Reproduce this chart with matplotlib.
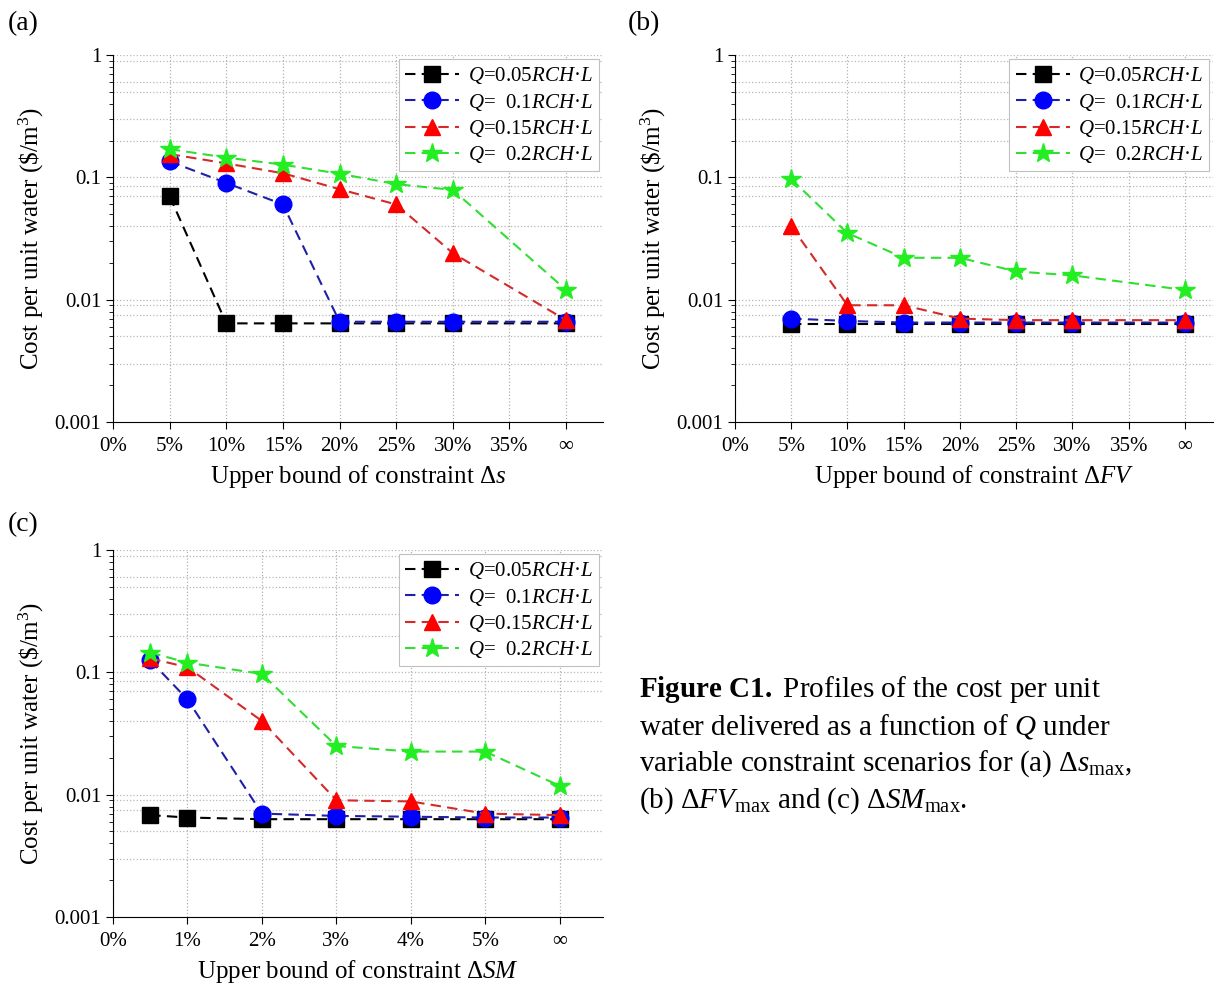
import numpy as np
import matplotlib
matplotlib.use("Agg")
import matplotlib.pyplot as plt
from matplotlib.ticker import LogLocator, FixedLocator, NullFormatter

plt.rcParams['font.family'] = ['Liberation Serif', 'DejaVu Serif']
plt.rcParams['mathtext.fontset'] = 'custom'
plt.rcParams['mathtext.rm'] = 'Liberation Serif'
plt.rcParams['mathtext.it'] = 'Liberation Serif:italic'
plt.rcParams['mathtext.bf'] = 'Liberation Serif:bold'

# series labels
labels = [r'$Q$=0.05$RCH$·$L$', r'$Q$=  0.1$RCH$·$L$',
          r'$Q$=0.15$RCH$·$L$', r'$Q$=  0.2$RCH$·$L$']

# panel (a): constraint on delta s
ticks_a = ['0%', '5%', '10%', '15%', '20%', '25%', '30%', '35%', '∞']
x_a = [1, 2, 3, 4, 5, 6, 8]
a_q005 = [0.070, 0.0064, 0.0064, 0.0064, 0.0064, 0.0064, 0.0064]
a_q010 = [0.135, 0.090, 0.060, 0.0066, 0.0066, 0.0066, 0.0066]
a_q015 = [0.155, 0.130, 0.108, 0.080, 0.060, 0.024, 0.0068]
a_q020 = [0.170, 0.145, 0.127, 0.107, 0.088, 0.079, 0.012]

# panel (b): constraint on delta FV
ticks_b = ticks_a
x_b = [1, 2, 3, 4, 5, 6, 8]
b_q005 = [0.0063, 0.0063, 0.0063, 0.0063, 0.0063, 0.0063, 0.0063]
b_q010 = [0.0070, 0.0067, 0.0065, 0.0065, 0.0065, 0.0065, 0.0065]
b_q015 = [0.040, 0.0090, 0.0090, 0.0070, 0.0068, 0.0068, 0.0068]
b_q020 = [0.097, 0.035, 0.022, 0.022, 0.017, 0.0158, 0.012]

# panel (c): constraint on delta SM
ticks_c = ['0%', '1%', '2%', '3%', '4%', '5%', '∞']
x_c = [0.5, 1, 2, 3, 4, 5, 6]
c_q005 = [0.0068, 0.0065, 0.0063, 0.0063, 0.0063, 0.0063, 0.0063]
c_q010 = [0.125, 0.060, 0.0070, 0.0067, 0.0066, 0.0065, 0.0065]
c_q015 = [0.130, 0.110, 0.040, 0.0090, 0.0088, 0.0070, 0.0068]
c_q020 = [0.145, 0.120, 0.097, 0.025, 0.0225, 0.0225, 0.0118]

# horizontal dotted grid levels visible in the original
grid_levels = [1, 0.9, 0.6, 0.5, 0.3, 0.2, 0.1, 0.085, 0.07, 0.04,
               0.01, 0.009, 0.0075, 0.005, 0.003]

markers = ['s', 'o', '^', '*']
mcolors = ['black', '#0000FF', '#FF0000', '#22EE22']
lcolors = ['black', '#1f1fa8', '#d42a2a', '#33dd33']
msizes = [11, 12, 12, 15]

fig = plt.figure(figsize=(12.18, 9.88), dpi=100)


def draw(ax, x, series, ticks, xmax, xlabel):
    for i, y in enumerate(series):
        ax.plot(x, y, linestyle=(0, (5, 3)), lw=1.5, color=lcolors[i],
                marker=markers[i], ms=msizes[i], mfc=mcolors[i], mec=mcolors[i],
                label=labels[i], zorder=3 + i)
    ax.set_yscale('log')
    ax.set_ylim(0.001, 1)
    ax.set_xlim(0, xmax)
    ax.xaxis.set_major_locator(FixedLocator(range(len(ticks))))
    ax.set_xticklabels(ticks)
    ax.yaxis.set_major_locator(FixedLocator([0.001, 0.01, 0.1, 1]))
    ax.set_yticklabels(['0.001', '0.01', '0.1', '1'])
    ax.yaxis.set_minor_locator(LogLocator(base=10, subs=np.arange(2, 10)))
    ax.yaxis.set_minor_formatter(NullFormatter())
    ax.grid(True, which='major', axis='x', linestyle=':', color='#b0b0b0', lw=0.9)
    for g in grid_levels:
        ax.axhline(g, linestyle=':', color='#b8b8b8', lw=0.9, zorder=1)
    for s in ['top', 'right']:
        ax.spines[s].set_visible(False)
    ax.tick_params(axis='both', which='major', labelsize=15, direction='out', length=5)
    ax.tick_params(axis='x', pad=6)
    ax.tick_params(axis='y', which='minor', length=3)
    ax.set_xlabel(xlabel, fontsize=18, labelpad=5)
    ax.set_ylabel(r'Cost per unit water (\$/m$^3$)', fontsize=18, labelpad=6)
    leg = ax.legend(loc='upper right', fontsize=15, handlelength=2.6,
                    borderaxespad=0.2, fancybox=False, framealpha=1,
                    edgecolor='#c0c0c0', labelspacing=0.25, borderpad=0.3,
                    handletextpad=0.4)
    leg.get_frame().set_linewidth(0.8)


ax_a = fig.add_axes([0.0928, 0.5729, 0.4022, 0.3714])
draw(ax_a, x_a, [a_q005, a_q010, a_q015, a_q020], ticks_a, 8.65,
     r'Upper bound of constraint $\Delta$$s$')

ax_b = fig.add_axes([0.6034, 0.5729, 0.3926, 0.3714])
draw(ax_b, x_b, [b_q005, b_q010, b_q015, b_q020], ticks_b, 8.5,
     r'Upper bound of constraint $\Delta$$FV$')

ax_c = fig.add_axes([0.0928, 0.0719, 0.4022, 0.3714])
draw(ax_c, x_c, [c_q005, c_q010, c_q015, c_q020], ticks_c, 6.58,
     r'Upper bound of constraint $\Delta$$SM$')

fig.text(0.006, 0.976, '(a)', fontsize=20, va='center')
fig.text(0.515, 0.976, '(b)', fontsize=20, va='center')
fig.text(0.006, 0.469, '(c)', fontsize=20, va='center')

caption = [r'$\bf{Figure\ C1.}$ Profiles of the cost per unit',
           r'water delivered as a function of $Q$ under',
           r'variable constraint scenarios for (a) $\Delta s_{\rm max}$,',
           r'(b) $\Delta FV_{\rm max}$ and (c) $\Delta SM_{\rm max}$.']
for i, line in enumerate(caption):
    fig.text(0.525, 0.302 - i * 0.0375, line, fontsize=21, va='center')

fig.savefig('out.png', dpi=100)
